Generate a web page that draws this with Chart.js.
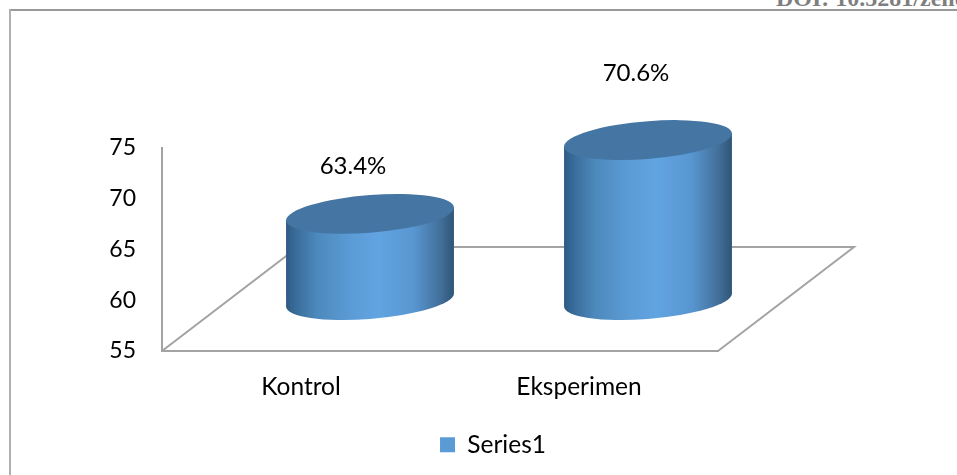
<!DOCTYPE html>
<html>
<head>
<meta charset="utf-8">
<style>
  html, body { margin: 0; padding: 0; background: #fff; overflow: hidden; }
  #wrap { position: relative; width: 957px; height: 475px; overflow: hidden; }
  #frameTop { position: absolute; left: 9px; top: 9px; width: 948px; height: 1.5px; background: #999; }
  #frameLeft { position: absolute; left: 9px; top: 9px; width: 2px; height: 466px; background: #b0b0b0; }
  #doi { position: absolute; left: 776px; top: -15px; white-space: nowrap; font: bold 24px "Liberation Serif"; color: #7f7f7f; }
  canvas { position: absolute; left: 0; top: 0; }
</style>
<script src="https://cdn.jsdelivr.net/npm/chart.js@4/dist/chart.umd.min.js"></script>
</head>
<body>
<div id="wrap">
  <div id="frameTop"></div>
  <div id="frameLeft"></div>
  <div id="doi">DOI: 10.5281/zenodo</div>
  <canvas id="myChart" width="957" height="475"></canvas>
</div>
<script>
var categories = ["Kontrol", "Eksperimen"];
var values = [63.4, 70.6];
var seriesName = "Series1";
var yMin = 55, yMax = 75, yStep = 5;

var FONT = "Lato";
var lineColor = "#a3a3a3";

// fake 3d: floor goes back by this much, bars stand half way in
var floorDepth = { x: 136, y: 104 };
var barDepth = { x: 69, y: 51 };
var barStretch = 1.01;
var labelOffsets = [{ x: -17, y: -48 }, { x: -12, y: -67 }];

function drawCylinder(ctx, cx, baseY, topY, w) {
  var a = w / 2, b = 18.9, tilt = 0.077;
  var h = baseY - topY;

  ctx.save();
  ctx.transform(1, -tilt, 0, 1, cx, topY);

  var side = ctx.createLinearGradient(-a, 0, a, 0);
  side.addColorStop(0, "#2f5a82");
  side.addColorStop(0.05, "#386a98");
  side.addColorStop(0.18, "#4c88bb");
  side.addColorStop(0.38, "#5b9bd5");
  side.addColorStop(0.55, "#61a4e2");
  side.addColorStop(0.76, "#5896d0");
  side.addColorStop(0.92, "#426f9a");
  side.addColorStop(1, "#2f5578");

  ctx.beginPath();
  ctx.moveTo(-a, 0);
  ctx.lineTo(-a, h);
  ctx.ellipse(0, h, a, b, 0, Math.PI, 0, true);
  ctx.lineTo(a, 0);
  ctx.closePath();
  ctx.fillStyle = side;
  ctx.fill();

  ctx.beginPath();
  ctx.ellipse(0, 0, a, b, 0, 0, Math.PI * 2);
  ctx.fillStyle = "#4575a2";
  ctx.fill();
  ctx.restore();
}

var cylinderPlugin = {
  id: "cylinder",
  afterLayout: function (chart) {
    // legend sits right of the plot centre in the original
    var lg = chart.legend;
    lg.left += 134;
    lg.right += 134;
  },
  beforeDatasetsDraw: function (chart) {
    var ctx = chart.ctx, area = chart.chartArea;
    ctx.save();
    ctx.strokeStyle = lineColor;
    ctx.lineWidth = 2;
    ctx.beginPath();
    ctx.moveTo(area.left, area.bottom);
    ctx.lineTo(area.left + floorDepth.x, area.bottom - floorDepth.y);
    ctx.lineTo(area.right + floorDepth.x, area.bottom - floorDepth.y);
    ctx.lineTo(area.right, area.bottom);
    ctx.stroke();
    ctx.restore();
  },
  beforeDatasetDraw: function (chart) {
    var ctx = chart.ctx, area = chart.chartArea;
    var bars = chart.getDatasetMeta(0).data;
    bars.forEach(function (bar, i) {
      var cx = bar.x + barDepth.x;
      var baseY = area.bottom - barDepth.y;
      var topY = baseY - (area.bottom - bar.y) * barStretch;
      drawCylinder(ctx, cx, baseY, topY, bar.width);

      ctx.save();
      ctx.fillStyle = "#000";
      ctx.font = "24px " + FONT;
      ctx.textAlign = "center";
      ctx.textBaseline = "middle";
      ctx.fillText(values[i] + "%", cx + labelOffsets[i].x, topY + labelOffsets[i].y);
      ctx.restore();
    });
    return false;
  }
};

new Chart(document.getElementById("myChart"), {
  type: "bar",
  data: {
    labels: categories,
    datasets: [{
      label: seriesName,
      data: values,
      backgroundColor: "#5b9bd5",
      categoryPercentage: 1,
      barPercentage: 0.604
    }]
  },
  options: {
    responsive: false,
    animation: false,
    layout: { padding: { left: 0, right: 239, top: 148, bottom: 8 } },
    plugins: {
      tooltip: { enabled: false },
      legend: {
        position: "bottom",
        labels: {
          color: "#000",
          boxWidth: 15,
          boxHeight: 15,
          padding: 6,
          font: { family: FONT, size: 24.5 }
        }
      }
    },
    scales: {
      x: {
        grid: { display: false, drawTicks: false },
        border: { color: lineColor, width: 2 },
        ticks: { color: "#000", padding: 21, font: { family: FONT, size: 24.5 } },
        afterFit: function (s) { s.height = 75.5; }
      },
      y: {
        min: yMin,
        max: yMax,
        grid: { display: false, drawTicks: false },
        border: { color: lineColor, width: 2 },
        ticks: { color: "#000", padding: 26, stepSize: yStep, font: { family: FONT, size: 23 } },
        afterFit: function (s) { s.width = 162; }
      }
    }
  },
  plugins: [cylinderPlugin]
});
</script>
</body>
</html>
